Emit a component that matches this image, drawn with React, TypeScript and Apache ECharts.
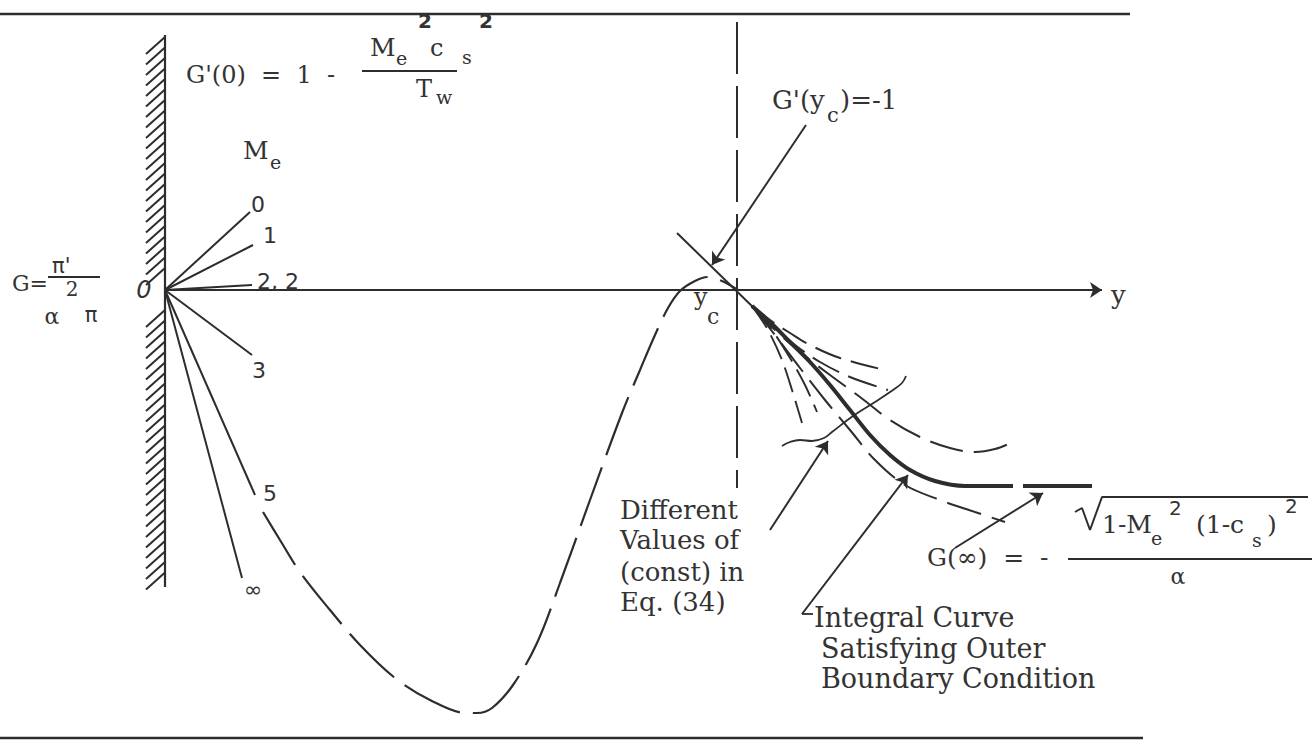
import React, { useEffect, useRef } from "react";
import * as echarts from "echarts";

// Sketch of integral curves G(y) between the wall and the critical point yc,
// and the family of curves beyond yc approaching G(inf).

const INK = "#2d2d2d";
const TEXT = "#333333";
const SERIF = '"DejaVu Serif", "Liberation Serif", serif';
const SANS = '"DejaVu Sans", "Liberation Sans", sans-serif';

// Drawing window in (y, G) units; the wall sits at y = 0.
const Y_MIN = -1.65;
const Y_MAX = 11.47;
const G_MIN = -4.5;
const G_MAX = 2.9;

// Frame rules above and below the sketch
const topRule = [[-1.65, 2.76], [9.65, 2.76]];
const bottomRule = [[-1.65, -4.48], [9.78, -4.48]];

// Wall
const wallTop = 2.55;
const wallBottom = -2.97;
const hatchGap = [-0.15, 0.22];
const HATCH_STEP = 0.105;
const HATCH_DY = 0.19;
const HATCH_DG = 0.17;

// Slopes at the wall, G'(0), for several edge Mach numbers Me
const machLabels = ["0", "1", "2, 2", "3", "5", "∞"];
const machRayEnds = [
  [0.85, 0.78],
  [0.88, 0.45],
  [0.87, 0.05],
  [0.87, -0.65],
  [0.9, -2.05],
  [0.77, -2.88],
];

// Integral curve from the wall to the critical point yc
const yc = 5.72;
const innerCurve = [
  [0.98, -2.22], [1.15, -2.5], [1.35, -2.82], [1.65, -3.2], [1.95, -3.55],
  [2.3, -3.88], [2.65, -4.1], [3.02, -4.23], [3.12, -4.23], [3.27, -4.18],
  [3.48, -3.95], [3.72, -3.53], [3.95, -2.93], [4.25, -2.1], [4.57, -1.23],
  [4.75, -0.8], [4.9, -0.45], [5.03, -0.18], [5.15, -0.01], [5.3, 0.09],
  [5.43, 0.13], [5.57, 0.09], [5.73, 0.0],
];
const ycLine = [[yc, 2.68], [yc, -1.98]];
const tangentAtYc = [[5.12, 0.57], [5.92, -0.21]];

// Curves beyond yc for different values of (const) in Eq. (34)
const fanSteepA = [[5.87, -0.16], [6.03, -0.4], [6.17, -0.7], [6.27, -1.0], [6.37, -1.33]];
const fanSteepB = [[5.87, -0.16], [6.07, -0.4], [6.25, -0.68], [6.4, -0.95], [6.52, -1.22]];
const fanLower = [
  [5.87, -0.16], [6.1, -0.45], [6.35, -0.78], [6.6, -1.1], [6.85, -1.4],
  [7.1, -1.7], [7.4, -1.95], [7.75, -2.1], [8.1, -2.22], [8.4, -2.32],
];
const fanUpturn = [
  [5.87, -0.16], [6.1, -0.4], [6.35, -0.62], [6.65, -0.85], [6.95, -1.07],
  [7.25, -1.3], [7.55, -1.47], [7.85, -1.58], [8.1, -1.62], [8.3, -1.59], [8.48, -1.52],
];
const fanMid = [[5.87, -0.16], [6.07, -0.35], [6.3, -0.55], [6.55, -0.72], [6.85, -0.87], [7.23, -1.0]];
const fanTop = [[5.87, -0.16], [6.05, -0.3], [6.25, -0.43], [6.45, -0.55], [6.75, -0.68], [7.2, -0.8]];

// Integral curve satisfying the outer boundary condition
const gInf = -1.96;
const outerCurve = [
  [5.87, -0.16], [6.05, -0.32], [6.25, -0.52], [6.45, -0.72], [6.65, -0.95],
  [6.85, -1.2], [7.05, -1.45], [7.25, -1.65], [7.45, -1.8], [7.7, -1.91],
  [8.0, -1.96], [8.48, gInf],
];
const outerTail = [[8.58, gInf], [9.27, gInf]];

// Brace gathering the family of curves
const brace = [
  [6.17, -1.56], [6.25, -1.52], [6.35, -1.5], [6.47, -1.51], [6.59, -1.48],
  [6.67, -1.42], [6.88, -1.26], [7.1, -1.12], [7.28, -1.0], [7.37, -0.93], [7.41, -0.86],
];

// Axis and leader arrows (tail -> head), and the small tick in front of a caption
const arrows = [
  [[0, 0], [9.37, 0]],
  [[6.41, 1.65], [5.47, 0.25]],
  [[6.05, -2.4], [6.63, -1.51]],
  [[6.37, -3.24], [7.43, -1.85]],
  [[7.9, -2.58], [8.78, -2.03]],
];
const captionTick = [[6.48, -3.24], [6.37, -3.24]];

// Fraction bars and radical sign
const barWall = [[1.97, 2.19], [2.92, 2.19]];
const barLeft = [[-1.17, 0.13], [-0.65, 0.13]];
const barInf = [[9.03, -2.69], [11.47, -2.69]];
const radical = [[9.1, -2.22], [9.17, -2.18], [9.25, -2.4], [9.37, -2.07], [11.43, -2.07]];

type Note = {
  t: string;
  at: number[];
  size: number;
  family?: string;
  align?: "left" | "center" | "right";
  italic?: boolean;
  bold?: boolean;
};

const notes: Note[] = [
  // G'(0) = 1 - Me^2 cs^2 / Tw
  { t: "G'(0)  =  1  -", at: [0.21, 2.15], size: 24 },
  { t: "M", at: [2.05, 2.43], size: 25 },
  { t: "e", at: [2.31, 2.32], size: 19 },
  { t: "c", at: [2.65, 2.42], size: 24 },
  { t: "s", at: [2.97, 2.33], size: 19 },
  { t: "2", at: [2.6, 2.69], size: 20, align: "center", bold: true, family: SANS },
  { t: "2", at: [3.21, 2.69], size: 20, align: "center", bold: true, family: SANS },
  { t: "T", at: [2.51, 2.01], size: 24 },
  { t: "w", at: [2.71, 1.93], size: 19 },
  // Me
  { t: "M", at: [0.78, 1.4], size: 25 },
  { t: "e", at: [1.05, 1.28], size: 19 },
  // origin and G scale
  { t: "0", at: [-0.21, 0.0], size: 24, align: "center", italic: true, family: SANS },
  { t: "G=", at: [-1.53, 0.07], size: 22 },
  { t: "π'", at: [-1.13, 0.24], size: 21, family: SANS },
  { t: "2", at: [-0.93, 0.01], size: 20, align: "center" },
  { t: "α", at: [-1.13, -0.26], size: 22, align: "center" },
  { t: "π", at: [-0.74, -0.25], size: 21, align: "center", family: SANS },
  // axis and critical point
  { t: "y", at: [9.46, -0.05], size: 26 },
  { t: "y", at: [5.29, -0.07], size: 24 },
  { t: "c", at: [5.42, -0.26], size: 22 },
  { t: "G'(y", at: [6.07, 1.9], size: 26 },
  { t: "c", at: [6.62, 1.75], size: 21 },
  { t: ")=-1", at: [6.75, 1.9], size: 26 },
  // captions
  { t: "Different", at: [4.55, -2.2], size: 26 },
  { t: "Values of", at: [4.55, -2.5], size: 26 },
  { t: "(const) in", at: [4.55, -2.82], size: 26 },
  { t: "Eq. (34)", at: [4.55, -3.12], size: 26 },
  { t: "Integral Curve", at: [6.49, -3.27], size: 27 },
  { t: "Satisfying Outer", at: [6.56, -3.58], size: 27 },
  { t: "Boundary Condition", at: [6.56, -3.88], size: 27 },
  // G(inf) = - sqrt(1 - Me^2 (1 - cs)^2) / a
  { t: "G(∞)  =  -", at: [7.62, -2.67], size: 25 },
  { t: "1-M", at: [9.37, -2.34], size: 25 },
  { t: "e", at: [9.86, -2.48], size: 19 },
  { t: "2", at: [10.04, -2.18], size: 20, family: SANS },
  { t: "(1-c", at: [10.31, -2.34], size: 25 },
  { t: "s", at: [10.87, -2.5], size: 19 },
  { t: ")", at: [11.02, -2.34], size: 25 },
  { t: "2", at: [11.2, -2.16], size: 20, family: SANS },
  { t: "α", at: [10.13, -2.86], size: 22, align: "center" },
];

const machLabelAt = [
  [0.86, 0.86],
  [0.98, 0.55],
  [0.92, 0.09],
  [0.87, -0.8],
  [0.98, -2.03],
  [0.79, -2.99],
];

function curve(data: number[][], width: number, dash: number[] | "solid", smooth: number | boolean = false, z = 3) {
  return {
    type: "line",
    data,
    smooth,
    showSymbol: false,
    symbol: "none",
    silent: true,
    z,
    lineStyle: { color: INK, width, type: dash, cap: "butt", opacity: 1 },
  };
}

export default function App() {
  const ref = useRef<HTMLDivElement>(null);

  useEffect(() => {
    if (!ref.current) return;
    const chart = echarts.init(ref.current, undefined, { renderer: "svg" });

    const allNotes: Note[] = [
      ...notes,
      ...machLabels.map((t, i) => ({ t, at: machLabelAt[i], size: 22, family: SANS })),
    ];

    chart.setOption({
      animation: false,
      backgroundColor: "#ffffff",
      grid: { left: 0, right: 0, top: 0, bottom: 0 },
      xAxis: { type: "value", min: Y_MIN, max: Y_MAX, show: false },
      yAxis: { type: "value", min: G_MIN, max: G_MAX, show: false },
      series: [
        curve(topRule, 2.5, "solid"),
        curve(bottomRule, 2.5, "solid"),
        curve([[0, wallTop], [0, wallBottom]], 2.2, "solid"),
        {
          type: "custom",
          coordinateSystem: "cartesian2d",
          silent: true,
          clip: false,
          data: [[0, wallTop]],
          renderItem: (_p: any, api: any) => {
            const children: any[] = [];
            for (let g = wallTop - 0.02; g > wallBottom + 0.06; g -= HATCH_STEP) {
              if (g > hatchGap[0] && g < hatchGap[1]) continue;
              const a = api.coord([0, g]);
              const b = api.coord([-HATCH_DY, g - HATCH_DG]);
              children.push({
                type: "line",
                shape: { x1: a[0], y1: a[1], x2: b[0], y2: b[1] },
                style: { stroke: INK, lineWidth: 2 },
              });
            }
            return { type: "group", children };
          },
        },
        {
          type: "lines",
          coordinateSystem: "cartesian2d",
          silent: true,
          data: machRayEnds.map((e) => ({ coords: [[0, 0], e] })),
          lineStyle: { color: INK, width: 2, curveness: 0, opacity: 1 },
        },
        curve(innerCurve, 2.2, [62, 13], 0.35),
        curve(ycLine, 2, [52, 12]),
        curve(tangentAtYc, 2, "solid"),
        curve(fanSteepA, 1.9, [26, 9], 0.3),
        curve(fanSteepB, 1.9, [30, 9], 0.3),
        curve(fanLower, 2, [36, 11], 0.35),
        curve(fanUpturn, 2, [34, 11], 0.35),
        curve(fanMid, 2, [30, 10], 0.35),
        curve(fanTop, 2, [28, 10], 0.35),
        curve(outerCurve, 4, "solid", 0.35, 4),
        curve(outerTail, 4, "solid", false, 4),
        curve(brace, 1.8, "solid", 0.4),
        curve(captionTick, 1.8, "solid"),
        curve(barWall, 2, "solid"),
        curve(barLeft, 2, "solid"),
        curve(barInf, 2, "solid"),
        curve(radical, 2, "solid"),
        {
          type: "lines",
          coordinateSystem: "cartesian2d",
          silent: true,
          symbol: ["none", "arrow"],
          symbolSize: 12,
          z: 5,
          data: arrows.map((c) => ({ coords: c })),
          lineStyle: { color: INK, width: 2, curveness: 0, opacity: 1 },
          itemStyle: { color: INK },
        },
        {
          type: "custom",
          coordinateSystem: "cartesian2d",
          silent: true,
          clip: false,
          z: 10,
          data: allNotes.map((n) => n.at),
          renderItem: (p: any, api: any) => {
            const n = allNotes[p.dataIndex];
            const pt = api.coord(n.at);
            return {
              type: "text",
              x: pt[0],
              y: pt[1],
              style: {
                text: n.t,
                fill: TEXT,
                fontSize: n.size,
                fontFamily: n.family || SERIF,
                fontStyle: n.italic ? "italic" : "normal",
                fontWeight: n.bold ? "bold" : "normal",
                align: n.align || "left",
                verticalAlign: "middle",
                textAlign: n.align || "left",
                textVerticalAlign: "middle",
              },
            };
          },
        },
      ],
    });

    return () => chart.dispose();
  }, []);

  return (
    <div
      ref={ref}
      style={{ position: "absolute", left: 0, top: 0, width: 1312, height: 740, background: "#fff" }}
    />
  );
}
